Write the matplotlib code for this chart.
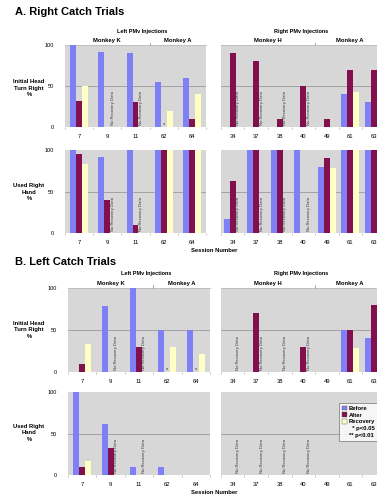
import numpy as np
import matplotlib
matplotlib.use("Agg")
import matplotlib.pyplot as plt
from matplotlib.patches import Patch
from matplotlib.lines import Line2D

plt.rcParams['font.family'] = ['Liberation Sans', 'DejaVu Sans']

W, H = 377, 496
DPI = 100

# ---- sessions ----
left_sessions = ['7', '9', '11', '62', '64']
right_sessions = ['34', '37', '38', '40', '49', '61', '63']

# ---- A. Right catch trials: initial head turn right (%) ----
a1_left_before = [100, 92, 90, 55, 60]
a1_left_after = [32, 0, 30, 0, 10]
a1_left_recov = [50, 0, 0, 20, 40]
a1_right_before = [0, 0, 0, 0, 0, 40, 30]
a1_right_after = [90, 80, 10, 50, 10, 70, 70]
a1_right_recov = [0, 0, 0, 0, 0, 43, 0]

# ---- A. Right catch trials: used right hand (%) ----
a2_left_before = [100, 92, 100, 100, 100]
a2_left_after = [95, 40, 10, 100, 100]
a2_left_recov = [83, 0, 0, 100, 100]
a2_right_before = [17, 100, 100, 100, 80, 100, 100]
a2_right_after = [63, 100, 100, 0, 90, 100, 100]
a2_right_recov = [0, 0, 0, 0, 78, 100, 100]

# ---- B. Left catch trials: initial head turn right (%) ----
b1_left_before = [0, 78, 100, 50, 50]
b1_left_after = [10, 0, 30, 0, 0]
b1_left_recov = [33, 0, 0, 30, 22]
b1_right_before = [0, 0, 0, 0, 0, 50, 40]
b1_right_after = [0, 70, 0, 30, 0, 50, 80]
b1_right_recov = [0, 0, 0, 0, 0, 28, 0]

# ---- B. Left catch trials: used right hand (%) ----
b2_left_before = [100, 62, 10, 10, 0]
b2_left_after = [10, 33, 0, 0, 0]
b2_left_recov = [17, 0, 0, 0, 0]
b2_right_before = [0, 0, 0, 0, 0, 0, 0]
b2_right_after = [0, 0, 0, 0, 0, 0, 0]
b2_right_recov = [0, 0, 0, 0, 0, 0, 0]

# sessions without recovery data
left_no_recovery = ['9', '11']
right_no_recovery = ['34', '37', '38', '40']

# significance markers on the "after" bar
a1_left_sig = {'62': '*'}
b1_left_sig = {'62': '*', '64': '*'}

C_BEFORE = '#8080F6'
C_AFTER = '#82104F'
C_RECOV = '#FFFFC6'
C_BG = '#D7D7D7'

fig = plt.figure(figsize=(W / DPI, H / DPI), dpi=DPI)


def px_axes(left, top, right, bottom):
    return fig.add_axes([left / W, 1 - bottom / H, (right - left) / W, (bottom - top) / H])


def draw_panel(ax, sessions, before, after, recov, no_rec, sig, bw, show_y):
    x = np.arange(len(sessions))
    ax.set_facecolor(C_BG)
    ax.bar(x - bw, before, bw, color=C_BEFORE, zorder=3)
    ax.bar(x, after, bw, color=C_AFTER, zorder=3)
    ax.bar(x + bw, recov, bw, color=C_RECOV, zorder=3)
    ax.axhline(50, color='#9A9A9A', lw=0.6, zorder=2)
    for s in no_rec:
        i = sessions.index(s)
        ax.text(i + bw * 0.9, 2, 'No Recovery Data', rotation=90, fontsize=3.0,
                ha='center', va='bottom', color='#333333', zorder=4)
    for s, m in sig.items():
        i = sessions.index(s)
        ax.text(i, 0.5, m, fontsize=4, ha='center', va='bottom', color='#222222', zorder=4)
    ax.set_xlim(-0.5, len(sessions) - 0.5)
    ax.set_ylim(0, 100)
    ax.set_xticks(x)
    ax.set_xticklabels(sessions, fontsize=4.2)
    ax.set_xticks(np.arange(len(sessions) + 1) - 0.5, minor=True)
    ax.tick_params(axis='x', which='major', length=0, pad=5)
    ax.tick_params(axis='x', which='minor', length=1.5, color='#BBBBBB')
    ax.set_yticks([0, 50, 100])
    if show_y:
        ax.set_yticklabels(['0', '50', '100'], fontsize=4)
        ax.tick_params(axis='y', length=0, pad=8)
    else:
        ax.set_yticklabels([])
        ax.tick_params(axis='y', length=0)
    for sp in ax.spines.values():
        sp.set_visible(False)


def draw_header(ax, title, title_x, groups, divider):
    # bracket line along the top edge with group names above it
    ax.plot([0, 1], [1.0, 1.0], transform=ax.transAxes, color='#BBBBBB', lw=0.6, clip_on=False)
    ax.plot([divider, divider], [1.0, 1.03], transform=ax.transAxes, color='#999999',
            lw=0.6, clip_on=False)
    for name, cx in groups:
        ax.text(cx, 1.025, name, transform=ax.transAxes, fontsize=4.2, fontweight='bold',
                ha='center', va='bottom')
    ax.text(title_x, 1.14, title, transform=ax.transAxes,
            fontsize=4, fontweight='bold', ha='center', va='bottom')


BW_L, BW_R = 0.21, 0.25
RIGHT_END = 221 + 7 * 23.5

# Section A
fig.text(15 / W, 1 - 12 / H, 'A. Right Catch Trials', fontsize=8, fontweight='bold',
         ha='left', va='center')
ax = px_axes(65, 45, 206, 127)
draw_panel(ax, left_sessions, a1_left_before, a1_left_after, a1_left_recov,
           left_no_recovery, a1_left_sig, BW_L, True)
draw_header(ax, 'Left PMv Injections', 0.55, [('Monkey K', 0.3), ('Monkey A', 0.8)], 0.6)
ax = px_axes(221, 45, RIGHT_END, 127)
draw_panel(ax, right_sessions, a1_right_before, a1_right_after, a1_right_recov,
           right_no_recovery, {}, BW_R, False)
draw_header(ax, 'Right PMv Injections', 0.486, [('Monkey H', 2 / 7), ('Monkey A', 5.5 / 7)], 4 / 7)

ax = px_axes(65, 150, 206, 233)
draw_panel(ax, left_sessions, a2_left_before, a2_left_after, a2_left_recov,
           left_no_recovery, {}, BW_L, True)
ax = px_axes(221, 150, RIGHT_END, 233)
draw_panel(ax, right_sessions, a2_right_before, a2_right_after, a2_right_recov,
           right_no_recovery, {}, BW_R, False)

fig.text(29 / W, 1 - 88 / H, 'Initial Head\nTurn Right\n%', fontsize=4.2, fontweight='bold',
         ha='center', va='center', linespacing=1.3)
fig.text(29 / W, 1 - 192 / H, 'Used Right\nHand\n%', fontsize=4.2, fontweight='bold',
         ha='center', va='center', linespacing=1.3)
fig.text(214 / W, 1 - 250 / H, 'Session Number', fontsize=4.2, fontweight='bold',
         ha='center', va='center')

# Section B
fig.text(15 / W, 1 - 262 / H, 'B. Left Catch Trials', fontsize=8, fontweight='bold',
         ha='left', va='center')
ax = px_axes(68, 288, 210, 372)
draw_panel(ax, left_sessions, b1_left_before, b1_left_after, b1_left_recov,
           left_no_recovery, b1_left_sig, BW_L, True)
draw_header(ax, 'Left PMv Injections', 0.55, [('Monkey K', 0.3), ('Monkey A', 0.8)], 0.6)
ax = px_axes(221, 288, RIGHT_END, 372)
draw_panel(ax, right_sessions, b1_right_before, b1_right_after, b1_right_recov,
           right_no_recovery, {}, BW_R, False)
draw_header(ax, 'Right PMv Injections', 0.486, [('Monkey H', 2 / 7), ('Monkey A', 5.5 / 7)], 4 / 7)

ax = px_axes(68, 392, 210, 475)
draw_panel(ax, left_sessions, b2_left_before, b2_left_after, b2_left_recov,
           left_no_recovery, {}, BW_L, True)
ax = px_axes(221, 392, RIGHT_END, 475)
draw_panel(ax, right_sessions, b2_right_before, b2_right_after, b2_right_recov,
           right_no_recovery, {}, BW_R, False)

handles = [Patch(facecolor=C_BEFORE, edgecolor='#555555', lw=0.3),
           Patch(facecolor=C_AFTER, edgecolor='#555555', lw=0.3),
           Patch(facecolor=C_RECOV, edgecolor='#555555', lw=0.3),
           Line2D([], [], linestyle='none'),
           Line2D([], [], linestyle='none')]
labels = ['Before', 'After', 'Recovery', '  * p<0.05', '** p<0.01']
leg = ax.legend(handles, labels, loc='upper left', bbox_to_anchor=(0.717, 0.87),
                fontsize=4.2, frameon=True, fancybox=False, edgecolor='#333333',
                handlelength=0.8, handleheight=0.8, handletextpad=0.4, borderpad=0.5,
                labelspacing=0.25, borderaxespad=0)
leg.get_frame().set_linewidth(0.4)
for t in leg.get_texts():
    t.set_fontweight('bold')

fig.text(29 / W, 1 - 330 / H, 'Initial Head\nTurn Right\n%',
         fontsize=4.2, fontweight='bold', ha='center', va='center', linespacing=1.3)
fig.text(29 / W, 1 - 433 / H, 'Used Right\nHand\n%', fontsize=4.2, fontweight='bold',
         ha='center', va='center', linespacing=1.3)
fig.text(214 / W, 1 - 492 / H, 'Session Number', fontsize=4.2, fontweight='bold',
         ha='center', va='center')

fig.savefig('out.png', dpi=DPI)
